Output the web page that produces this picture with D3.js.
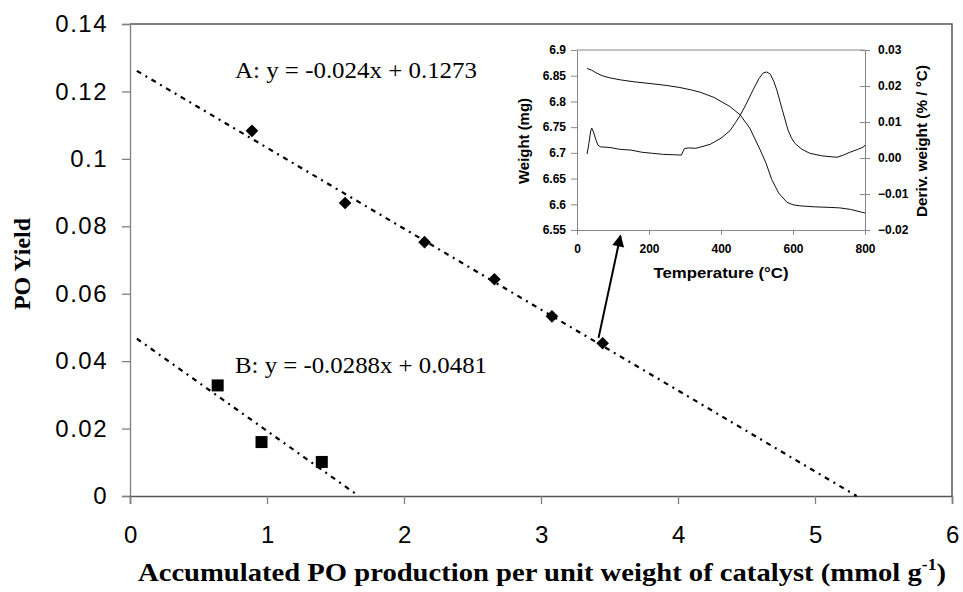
<!DOCTYPE html>
<html>
<head>
<meta charset="utf-8">
<script src="https://cdn.jsdelivr.net/npm/d3@7"></script>
<style>
  body { margin: 0; background: #fff; }
  svg { display: block; }
  .tick-main { font-family: 'Liberation Sans', Arial, sans-serif; font-size: 24px; letter-spacing: 1.5px; fill: #000; }
  .serif { font-family: 'Liberation Serif', 'Times New Roman', serif; fill: #000; }
  .inset-text { font-family: 'Liberation Sans', Arial, sans-serif; font-weight: bold; fill: #000; }
</style>
</head>
<body>
<div id="chart"></div>
<script>
// main chart data
const seriesA = [
  { x: 0.89, y: 0.1083 },
  { x: 1.57, y: 0.0869 },
  { x: 2.15, y: 0.0753 },
  { x: 2.66, y: 0.0643 },
  { x: 3.08, y: 0.0533 },
  { x: 3.45, y: 0.0453 },
]
const seriesB = [
  { x: 0.64, y: 0.0328 },
  { x: 0.96, y: 0.0160 },
  { x: 1.40, y: 0.0101 },
]
const fitA = { slope: -0.024, intercept: 0.1273, from: 0.05, label: 'A: y = -0.024x + 0.1273' }
const fitB = { slope: -0.0288, intercept: 0.0481, from: 0.05, label: 'B: y = -0.0288x + 0.0481' }
const xTicks = [0, 1, 2, 3, 4, 5, 6]
const yTicks = [0, 0.02, 0.04, 0.06, 0.08, 0.1, 0.12, 0.14]
const arrowPts = [{ x: 3.42, y: 0.0469 }, { x: 3.58, y: 0.0772 }]

// inset (TGA) data
const tempTicks = [0, 200, 400, 600, 800]
const weightTicks = [6.55, 6.6, 6.65, 6.7, 6.75, 6.8, 6.85, 6.9]
const derivTicks = [-0.02, -0.01, 0, 0.01, 0.02, 0.03]
const weightCurve = [
  [28, 6.864], [40, 6.861], [55, 6.855], [70, 6.850], [90, 6.846], [120, 6.842],
  [160, 6.838], [200, 6.835], [250, 6.831], [286, 6.827], [320, 6.822], [342, 6.818],
  [380, 6.808], [425, 6.790], [453, 6.774], [480, 6.748], [508, 6.707], [525, 6.680],
  [541, 6.648], [560, 6.622], [583, 6.604], [600, 6.599], [619, 6.597], [660, 6.595],
  [700, 6.594], [730, 6.593], [760, 6.590], [800, 6.583],
]
const derivCurve = [
  [28, 0.0011], [33, 0.0040], [38, 0.0075], [41, 0.0083], [46, 0.0072], [52, 0.0052],
  [58, 0.0036], [65, 0.0031], [80, 0.0030], [92, 0.0029], [120, 0.0024], [150, 0.0022],
  [180, 0.0016], [210, 0.0013], [240, 0.0010], [270, 0.0009], [290, 0.0008], [298, 0.0026],
  [310, 0.0028], [330, 0.0027], [342, 0.0030], [370, 0.0038], [400, 0.0055], [425, 0.0076],
  [440, 0.0098], [453, 0.0118], [470, 0.0150], [489, 0.0189], [505, 0.0220], [517, 0.0236],
  [527, 0.0239], [537, 0.0233], [547, 0.0212], [555, 0.0189], [570, 0.0135], [586, 0.0078],
  [596, 0.0055], [606, 0.0040], [625, 0.0024], [647, 0.0013], [680, 0.0006], [700, 0.0004],
  [722, 0.0002], [740, 0.0008], [758, 0.0016], [780, 0.0024], [795, 0.0030], [800, 0.0036],
]

const W = 963, H = 592
const svg = d3.select('#chart').append('svg').attr('width', W).attr('height', H)

const x = d3.scaleLinear().domain([0, 6]).range([130, 952])
const y = d3.scaleLinear().domain([0, 0.14]).range([496, 24])

// frame (top + right)
svg.append('path')
  .attr('d', `M${x(0)},${y(0.14)}H${x(6)}V${y(0)}`)
  .attr('fill', 'none').attr('stroke', '#555').attr('stroke-width', 1.5)

const yAxis = svg.append('g')
  .attr('transform', `translate(${x(0)},0)`)
  .call(d3.axisLeft(y).tickValues(yTicks).tickSize(8).tickPadding(14).tickFormat((d) => String(+d.toFixed(2))))
yAxis.select('.domain').attr('stroke', '#808080').attr('stroke-width', 1.3)
yAxis.selectAll('.tick line').attr('stroke', '#808080').attr('stroke-width', 1.3)
yAxis.selectAll('.tick text').attr('class', 'tick-main').attr('font-size', null).attr('font-family', null)

const xAxis = svg.append('g')
  .attr('transform', `translate(0,${y(0)})`)
  .call(d3.axisBottom(x).tickValues(xTicks).tickSize(8).tickPadding(22).tickFormat(d3.format('d')))
xAxis.select('.domain').attr('stroke', '#555').attr('stroke-width', 1.5)
xAxis.selectAll('.tick line').attr('stroke', '#808080').attr('stroke-width', 1.3)
xAxis.selectAll('.tick text').attr('class', 'tick-main').attr('font-size', null).attr('font-family', null)
  .attr('dx', 1)

// fitted lines
const line = d3.line().x((d) => x(d.x)).y((d) => y(d.y))
;[fitA, fitB].forEach((f) => {
  const to = -f.intercept / f.slope
  const pts = [f.from, to].map((v) => ({ x: v, y: f.slope * v + f.intercept }))
  svg.append('path')
    .attr('d', line(pts))
    .attr('fill', 'none').attr('stroke', '#000').attr('stroke-width', 2.2)
    .attr('stroke-dasharray', '5,5,2,5')
})

// markers
svg.append('g').selectAll('path')
  .data(seriesA)
  .join('path')
  .attr('d', d3.symbol(d3.symbolSquare, 80))
  .attr('transform', (d) => `translate(${x(d.x)},${y(d.y)}) rotate(45)`)
  .attr('fill', '#000')

svg.append('g').selectAll('rect')
  .data(seriesB)
  .join('rect')
  .attr('x', (d) => x(d.x) - 6).attr('y', (d) => y(d.y) - 6)
  .attr('width', 12).attr('height', 12)
  .attr('fill', '#000')

// equations
svg.append('text').attr('class', 'serif')
  .attr('x', 235).attr('y', 78).attr('font-size', 24)
  .attr('textLength', 242).attr('lengthAdjust', 'spacingAndGlyphs')
  .text(fitA.label)
svg.append('text').attr('class', 'serif')
  .attr('x', 235).attr('y', 373).attr('font-size', 24)
  .attr('textLength', 252).attr('lengthAdjust', 'spacingAndGlyphs')
  .text(fitB.label)

// axis titles
svg.append('text').attr('class', 'serif')
  .attr('transform', 'translate(30,264) rotate(-90)')
  .attr('text-anchor', 'middle').attr('font-size', 24).attr('font-weight', 'bold')
  .text('PO Yield')

const xt = svg.append('text').attr('class', 'serif')
  .attr('x', 138).attr('y', 581).attr('font-size', 26).attr('font-weight', 'bold')
  .attr('textLength', 808).attr('lengthAdjust', 'spacingAndGlyphs')
xt.append('tspan').text('Accumulated PO production per unit weight of catalyst (mmol g')
xt.append('tspan').attr('font-size', 16).attr('dy', -11).text('-1')
xt.append('tspan').attr('dy', 11).text(')')

// arrow
const defs = svg.append('defs')
defs.append('marker')
  .attr('id', 'head').attr('viewBox', '0 0 10 10')
  .attr('refX', 9).attr('refY', 5)
  .attr('markerWidth', 16).attr('markerHeight', 12)
  .attr('markerUnits', 'userSpaceOnUse')
  .attr('orient', 'auto')
  .append('path').attr('d', 'M0,0L10,5L0,10Z').attr('fill', '#000')

svg.append('path')
  .attr('d', line(arrowPts))
  .attr('stroke', '#000').attr('stroke-width', 2).attr('fill', 'none')
  .attr('marker-end', 'url(#head)')

// ---- inset ----
const tx = d3.scaleLinear().domain([0, 800]).range([577, 865])
const wy = d3.scaleLinear().domain([6.55, 6.9]).range([230, 50])
const dy = d3.scaleLinear().domain([-0.02, 0.03]).range([230, 50])

const inset = svg.append('g')
inset.append('line')
  .attr('x1', tx(0)).attr('x2', tx(800)).attr('y1', wy(6.9)).attr('y2', wy(6.9))
  .attr('stroke', '#888').attr('stroke-width', 1)

const styleInsetAxis = (g) => {
  g.select('.domain').attr('stroke', '#888')
  g.selectAll('.tick line').attr('stroke', '#888')
  g.selectAll('.tick text').attr('class', 'inset-text').attr('font-size', 12).attr('font-family', null).attr('fill', null)
}

inset.append('g')
  .attr('transform', `translate(${tx(0)},0)`)
  .call(d3.axisLeft(wy).tickValues(weightTicks).tickSize(6).tickPadding(5).tickSizeOuter(0).tickFormat((d) => String(+d.toFixed(2))))
  .call(styleInsetAxis)

const rAxis = inset.append('g')
  .attr('transform', `translate(${tx(800)},0)`)
  .call(d3.axisRight(dy).tickValues(derivTicks).tickSize(5).tickPadding(8).tickSizeOuter(0).tickFormat(d3.format('.2f')))
  .call(styleInsetAxis)
rAxis.selectAll('.tick line').attr('x1', -5)

inset.append('g')
  .attr('transform', `translate(0,${wy(6.55)})`)
  .call(d3.axisBottom(tx).tickValues(tempTicks).tickSize(5).tickPadding(9).tickSizeOuter(0))
  .call(styleInsetAxis)

inset.append('path')
  .datum(weightCurve)
  .attr('d', d3.line().x((d) => tx(d[0])).y((d) => wy(d[1])))
  .attr('fill', 'none').attr('stroke', '#111').attr('stroke-width', 1)
inset.append('path')
  .datum(derivCurve)
  .attr('d', d3.line().x((d) => tx(d[0])).y((d) => dy(d[1])))
  .attr('fill', 'none').attr('stroke', '#111').attr('stroke-width', 1)

inset.append('text').attr('class', 'inset-text')
  .attr('transform', 'translate(529,141) rotate(-90)')
  .attr('text-anchor', 'middle').attr('font-size', 14)
  .attr('textLength', 86).attr('lengthAdjust', 'spacingAndGlyphs')
  .text('Weight (mg)')
inset.append('text').attr('class', 'inset-text')
  .attr('transform', 'translate(927,141) rotate(-90)')
  .attr('text-anchor', 'middle').attr('font-size', 14)
  .attr('textLength', 152).attr('lengthAdjust', 'spacingAndGlyphs')
  .text('Deriv. weight (% / °C)')
inset.append('text').attr('class', 'inset-text')
  .attr('x', 721).attr('y', 278)
  .attr('text-anchor', 'middle').attr('font-size', 15)
  .attr('textLength', 135).attr('lengthAdjust', 'spacingAndGlyphs')
  .text('Temperature (°C)')
</script>
</body>
</html>
